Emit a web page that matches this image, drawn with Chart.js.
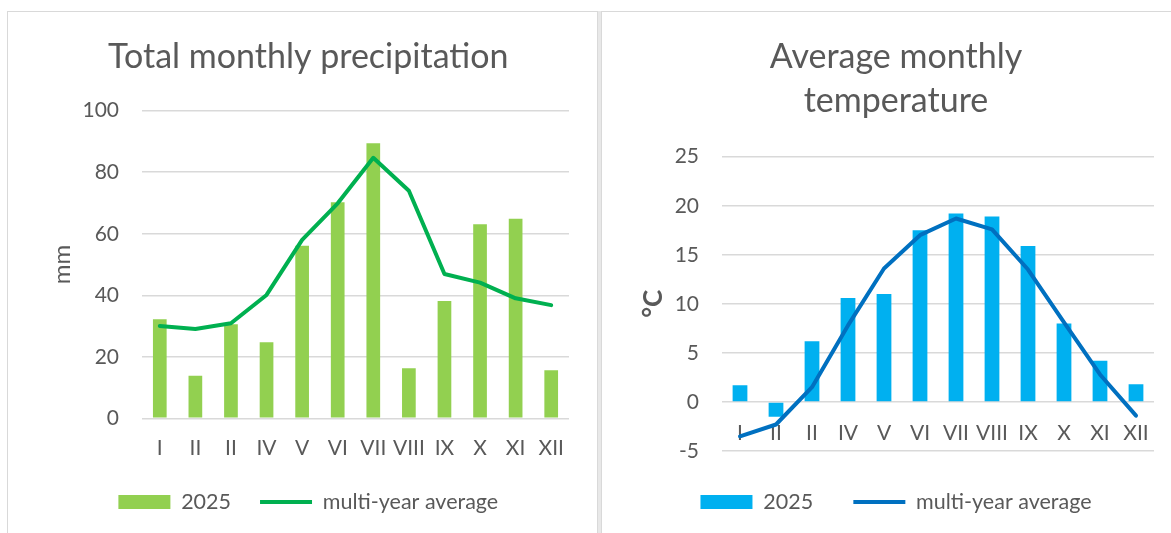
<!DOCTYPE html>
<html>
<head>
<meta charset="utf-8">
<script src="https://cdn.jsdelivr.net/npm/chart.js@4"></script>
<style>
    body { margin: 0; width: 1171px; height: 533px; background: #fff; overflow: hidden; position: relative; }
    .panel { position: absolute; top: 11px; height: 540px; border: 1.5px solid #d9d9d9; box-sizing: border-box; background: #fff; }
    #leftPanel { left: 7px; width: 591px; }
    #rightPanel { left: 601px; width: 600px; }
    #gap { position: absolute; left: 598px; top: 11px; width: 3px; height: 540px; background: #e8e8e8; }
    canvas { position: absolute; }
    #rainChart { left: 8px; top: 12px; }
    #tempChart { left: 601px; top: 12px; }
</style>
</head>
<body>
<div id="leftPanel" class="panel"></div>
<div id="gap"></div>
<div id="rightPanel" class="panel"></div>
<canvas id="rainChart" width="590" height="521"></canvas>
<canvas id="tempChart" width="570" height="521"></canvas>
<script>
const months = ['I', 'II', 'II', 'IV', 'V', 'VI', 'VII', 'VIII', 'IX', 'X', 'XI', 'XII'];
const seriesNames = ['2025', 'multi-year average'];

// opady (mm)
const rain2025 = [32.2, 13.8, 30.6, 24.7, 56.1, 70.2, 89.4, 16.3, 38.1, 63.1, 64.9, 15.6];
const rainAvg = [30.0, 29.0, 30.9, 40.1, 58.0, 69.9, 84.7, 74.0, 46.9, 44.1, 39.0, 36.8];

// temperatura (°C)
const temp2025 = [1.7, -1.5, 6.2, 10.6, 11.0, 17.5, 19.2, 18.9, 15.9, 8.0, 4.2, 1.8];
const tempAvg = [-3.5, -2.3, 1.5, 7.8, 13.6, 17.0, 18.7, 17.6, 13.5, 8.1, 2.8, -1.4];

const textColor = '#595959';
const gridColor = '#d9d9d9';
const font = 'Lato';

function makeChart(id, opts) {
    return new Chart(document.getElementById(id), {
        type: 'bar',
        data: {
            labels: months,
            datasets: [{
                label: seriesNames[0],
                data: opts.bars,
                backgroundColor: opts.barColor,
                borderWidth: 0,
                barPercentage: opts.barPct,
                categoryPercentage: 1,
                pointStyle: 'rect',
                order: 2
            }, {
                type: 'line',
                label: seriesNames[1],
                data: opts.line,
                borderColor: opts.lineColor,
                backgroundColor: opts.lineColor,
                borderWidth: 4,
                borderCapStyle: 'round',
                borderJoinStyle: 'round',
                pointRadius: 0,
                pointStyle: 'line',
                tension: 0,
                order: 1
            }]
        },
        options: {
            responsive: false,
            animation: false,
            layout: { padding: opts.padding },
            plugins: {
                tooltip: { enabled: false },
                title: {
                    display: true,
                    text: opts.title,
                    color: textColor,
                    font: { family: font, size: 34, weight: 'normal', lineHeight: 44 / 34 },
                    padding: opts.titlePadding
                },
                legend: {
                    position: 'bottom',
                    reverse: true,
                    labels: {
                        usePointStyle: true,
                        pointStyleWidth: 52,
                        boxHeight: 14,
                        padding: opts.legendPadding,
                        color: textColor,
                        font: { family: font, size: 21.5 }
                    }
                }
            },
            scales: {
                x: {
                    position: opts.xPosition,
                    grid: { display: false, drawTicks: false },
                    border: { display: false },
                    ticks: { color: textColor, font: { family: font, size: 21 }, padding: opts.xPad, maxRotation: 0, autoSkip: false },
                    afterFit: opts.xHeight ? (s => { s.height = opts.xHeight; }) : undefined
                },
                y: {
                    min: opts.min,
                    max: opts.max,
                    grid: { color: gridColor, lineWidth: 1.5, drawTicks: false },
                    border: { display: false },
                    ticks: { stepSize: opts.step, color: textColor, font: { family: font, size: 21 }, padding: 23 },
                    title: {
                        display: true,
                        text: opts.yTitle,
                        color: textColor,
                        padding: 0,
                        font: { family: font, size: opts.yTitleSize, weight: opts.yTitleWeight }
                    },
                    afterFit: s => { s.width = opts.yWidth; }
                }
            }
        }
    });
}

makeChart('rainChart', {
    title: 'Total monthly precipitation',
    bars: rain2025, line: rainAvg,
    barColor: '#92d050', lineColor: '#00b050', barPct: 0.385,
    min: 0, max: 100, step: 20,
    yTitle: 'mm', yTitleWeight: 'normal', yTitleSize: 24,
    padding: { left: 39.6, right: 29, top: 0, bottom: 10.25 },
    titlePadding: { top: 23, bottom: 31.7 },
    legendPadding: 29,
    xPosition: 'bottom', xPad: 17.2, xHeight: 43.95,
    yWidth: 94.4
});

makeChart('tempChart', {
    title: ['Average monthly', 'temperature'],
    bars: temp2025, line: tempAvg,
    barColor: '#00b0f0', lineColor: '#0070c0', barPct: 0.41,
    min: -5, max: 25, step: 5,
    yTitle: '°C', yTitleWeight: 'bold', yTitleSize: 26,
    padding: { left: 37, right: 17, top: 0, bottom: 10.25 },
    titlePadding: { top: 23, bottom: 33.7 },
    legendPadding: 40.25,
    xPosition: { y: 0 }, xPad: 18.2, xHeight: null,
    yWidth: 84
});
</script>
</body>
</html>
